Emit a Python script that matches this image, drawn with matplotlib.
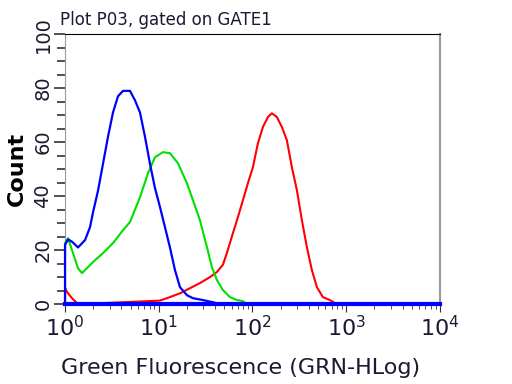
import matplotlib
matplotlib.use("Agg")
import matplotlib.pyplot as plt
import numpy as np

# histogram traces (fluorescence, count)
blue_x = [1.0, 1.0, 1.08, 1.2, 1.376, 1.634, 1.848, 1.99, 2.249, 2.543, 2.875, 3.251,
          3.675, 4.156, 4.936, 5.58, 6.31, 7.134, 8.066, 9.12, 10.31, 11.66, 13.18,
          14.91, 16.86, 20.01, 23.19, 29.65, 37.91, 45.0, 10000]
blue_y = [0, 22, 24, 23, 21, 23.7, 28.5, 34, 42, 52, 62, 71,
          77, 79, 79, 75.5, 71, 62, 52, 43, 36, 28.5, 21,
          12.6, 6.3, 3.3, 2.2, 1.5, 0.7, 0, 0]

green_x = [1.0, 1.0, 1.076, 1.217, 1.376, 1.518, 1.99, 2.543, 3.251, 4.156, 4.936,
           6.31, 7.68, 9.12, 11.1, 13.18, 16.04, 20.01, 23.19, 27.54, 32.71, 36.98,
           41.8, 48.45, 57.54, 68.34, 79.2, 87.4]
green_y = [0, 22.6, 24.4, 18.9, 13.3, 11.5, 15.6, 18.9, 22.6, 27.4, 30.4,
           39.6, 48.5, 54.4, 56.3, 55.9, 52.2, 44.8, 38.5, 31.1, 21.1, 13.7,
           8.9, 5.2, 2.6, 1.5, 1.1, 0]

red_x = [1.0, 1.0, 1.05, 1.2, 1.38, 4.16, 10.3, 13.18, 16.86, 21.54, 27.54, 35.2,
         41.8, 48.45, 53.46, 61.94, 70.0, 79.2, 89.5, 101.2, 114.5, 129.4, 146.3,
         161.4, 182.5, 206.4, 233.3, 263.8, 298.3, 337.3, 381.4, 431.2, 487.5,
         564.9, 670.9, 796.8]
red_y = [0, 6, 4.5, 2, 0, 0.7, 1.3, 2.6, 4, 5.9, 7.8, 10,
         11.9, 14.6, 19, 26.3, 32.2, 38.5, 44.8, 50.7, 59.6, 65.6, 69.3,
         70.7, 69.3, 65.6, 60.7, 50.7, 42.2, 31.1, 21.1, 12.6, 6.3,
         2.6, 1.5, 0]

fig = plt.figure(figsize=(5.12, 3.84), dpi=100)
ax = fig.add_axes([0.127, 0.208, 0.732, 0.703])

ax.plot(red_x, red_y, color="#ff0000", lw=1.5, clip_on=False, zorder=3)
ax.plot(green_x, green_y, color="#00e000", lw=1.5, clip_on=False, zorder=4)
ax.plot(blue_x, blue_y, color="#0000ff", lw=1.6, clip_on=False, zorder=5)
# thick blue baseline
ax.plot([1, 10000], [0, 0], color="#0000ff", lw=3, clip_on=False, zorder=5)

ax.set_xscale("log")
ax.set_xlim(1, 10000)
ax.set_ylim(0, 100)
ax.set_xticks([1, 10, 100, 1000, 10000])
ax.set_xticklabels([r"$10^{0}$", r"$10^{1}$", r"$10^{2}$", r"$10^{3}$", r"$10^{4}$"],
                   fontsize=16, color="#1a1a33")
ax.set_yticks([0, 20, 40, 60, 80, 100])
ax.set_yticks(np.arange(0, 101, 5), minor=True)
for lab in ax.get_yticklabels():
    lab.set_rotation(90)
    lab.set_va("center")
    lab.set_fontsize(14)
    lab.set_color("#1a1a33")

ax.tick_params(axis="y", which="major", direction="out", length=8, width=1.2, color="#333333", pad=1)
ax.tick_params(axis="y", which="minor", direction="out", length=6, width=1.2, color="#333333")
ax.tick_params(axis="x", which="major", direction="out", length=6, color="#333333", pad=2)
ax.tick_params(axis="x", which="minor", direction="out", length=3.5, color="#333333")

ax.spines["top"].set_color("black")
ax.spines["right"].set_color("#999999")
ax.spines["right"].set_linewidth(1.5)
ax.spines["left"].set_color("#999999")
ax.spines["bottom"].set_color("black")

ax.set_xlabel("Green Fluorescence (GRN-HLog)", fontsize=16, color="#1a1a33")
ax.xaxis.set_label_coords(0.469, -0.2)
ax.set_ylabel("Count", fontsize=16, fontweight="semibold", labelpad=5)
fig.text(0.118, 0.935, "Plot P03, gated on GATE1", fontsize=12, color="#1a1a33")

fig.savefig("out.png", dpi=100)
